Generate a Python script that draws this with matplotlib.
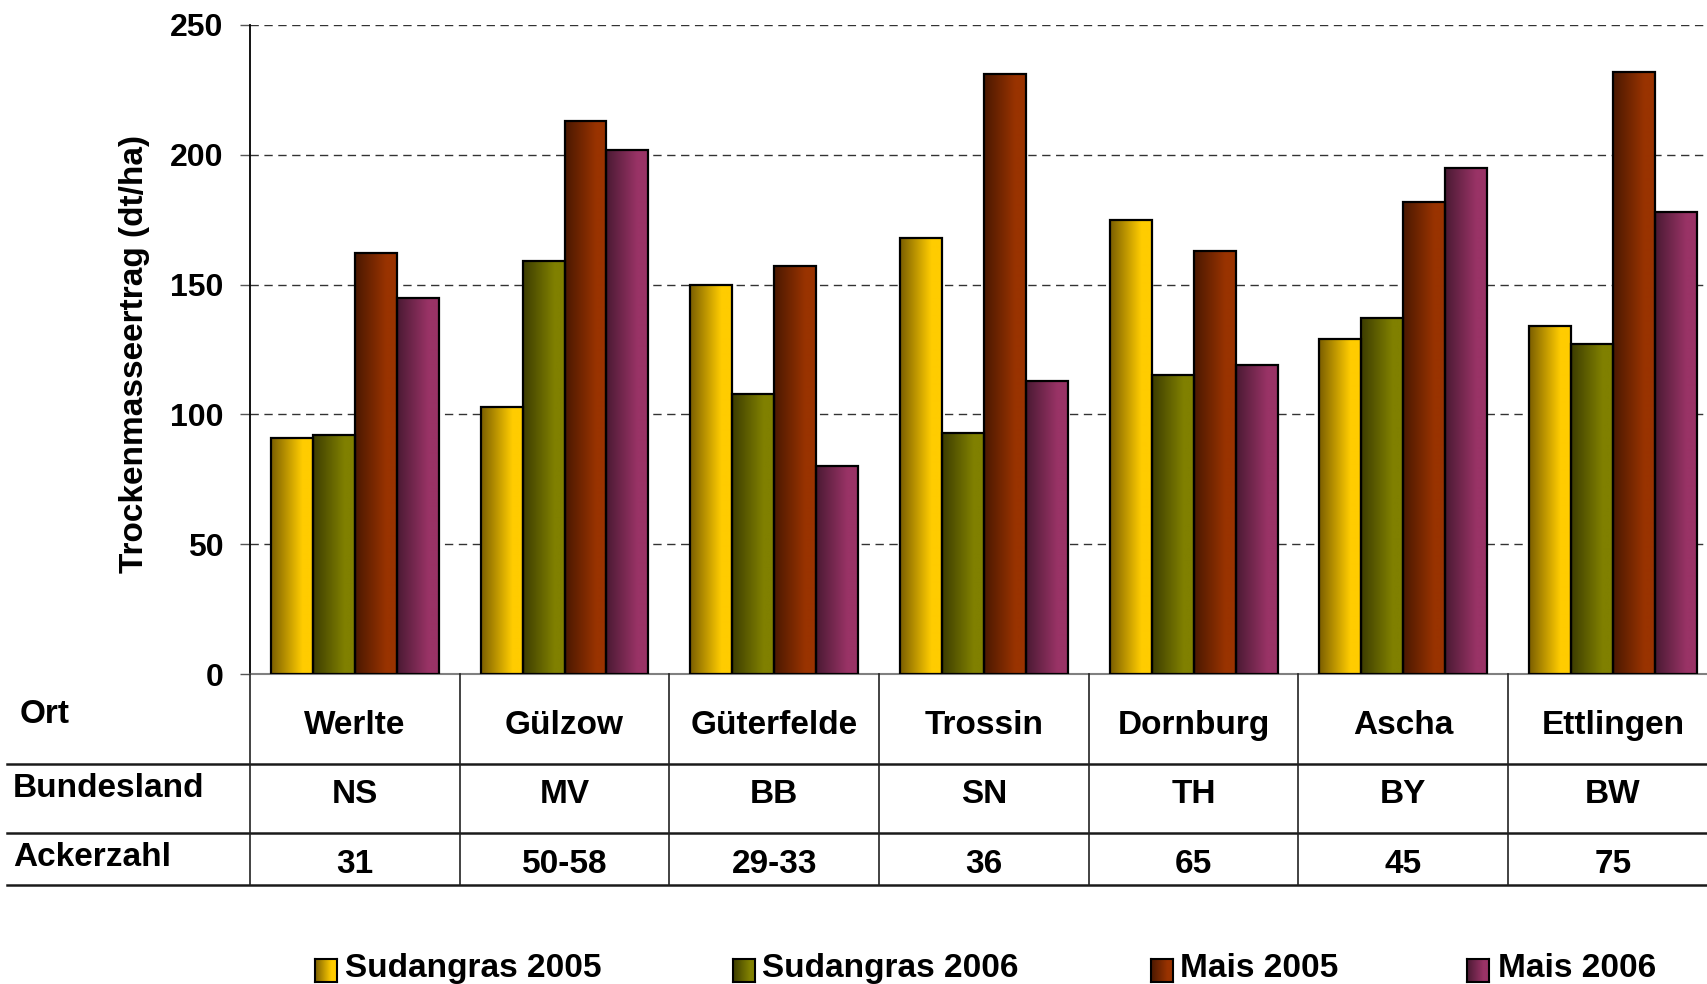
import numpy as np
import matplotlib
matplotlib.use("Agg")
import matplotlib.pyplot as plt
from matplotlib.colors import LinearSegmentedColormap
from matplotlib.transforms import blended_transform_factory

# ---- data -----------------------------------------------------------------
orte = ["Werlte", "Gülzow", "Güterfelde", "Trossin", "Dornburg", "Ascha", "Ettlingen"]
bundesland = ["NS", "MV", "BB", "SN", "TH", "BY", "BW"]
ackerzahl = ["31", "50-58", "29-33", "36", "65", "45", "75"]

series_names = ["Sudangras 2005", "Sudangras 2006", "Mais 2005", "Mais 2006"]
sudangras_2005 = [91, 103, 150, 168, 175, 129, 134]
sudangras_2006 = [92, 159, 108, 93, 115, 137, 127]
mais_2005 = [162, 213, 157, 231, 163, 182, 232]
mais_2006 = [145, 202, 80, 113, 119, 195, 178]
series_values = [sudangras_2005, sudangras_2006, mais_2005, mais_2006]

# dark (left) -> bright (right) colours of each horizontal gradient
series_colors = [("#7a5e00", "#ffcc00"),
                 ("#3c3c00", "#808000"),
                 ("#4a1800", "#993300"),
                 ("#4a1a33", "#993366")]

y_ticks = [0, 50, 100, 150, 200, 250]

# ---- figure ---------------------------------------------------------------
W, H = 1707, 984
plt.rcParams["font.family"] = ["Liberation Sans", "DejaVu Sans"]
plt.rcParams["font.weight"] = "bold"
FS = 23
FS_TABLE = 24

fig = plt.figure(figsize=(W / 100, H / 100), dpi=100)
fig.patch.set_facecolor("white")

ax_left, ax_bottom_px, ax_top_px = 250, 674, 25
group_px = 209.7
ax = fig.add_axes([ax_left / W, 1 - ax_bottom_px / H,
                   7 * group_px / W, (ax_bottom_px - ax_top_px) / H])

def gradient_cmap(c0, c1):
    return LinearSegmentedColormap.from_list("g", [(0.0, c0), (0.75, c1), (1.0, c1)])

grad = np.linspace(0, 1, 256).reshape(1, -1)

x = np.arange(len(orte))
bar_w = 0.2
offsets = [-0.3, -0.1, 0.1, 0.3]
for vals, (c0, c1), off in zip(series_values, series_colors, offsets):
    cmap = gradient_cmap(c0, c1)
    bars = ax.bar(x + off, vals, width=bar_w, facecolor="none",
                  edgecolor="black", linewidth=1.6, zorder=4)
    for rect in bars:
        x0, w, h = rect.get_x(), rect.get_width(), rect.get_height()
        im = ax.imshow(grad, cmap=cmap, aspect="auto",
                       extent=(x0, x0 + w, 0, h), zorder=3, interpolation="bilinear")
        im.set_clip_path(rect)

ax.set_xlim(-0.5, len(orte) - 0.5)
ax.set_ylim(0, 250)
ax.set_aspect("auto")

ax.set_yticks(y_ticks)
ax.set_yticklabels([str(v) for v in y_ticks], fontsize=FS, fontweight="bold")
ax.tick_params(axis="y", length=7, width=1, color="#555555", pad=12, direction="out")
ax.set_xticks([])
for yv in y_ticks[1:]:
    ax.axhline(yv, color="#333333", linewidth=1, linestyle=(0, (6, 4)), zorder=1)

for s in ["top", "right"]:
    ax.spines[s].set_visible(False)
ax.spines["left"].set_color("black")
ax.spines["left"].set_linewidth(1.3)
ax.spines["bottom"].set_color("#808080")
ax.spines["bottom"].set_linewidth(1.5)

fig.text(134 / W, 1 - 354 / H, "Trockenmasseertrag (dt/ha)", rotation=90,
         ha="center", va="center", fontsize=24, fontweight="bold")

# ---- data table under the axis ---------------------------------------------
tr = blended_transform_factory(ax.transData, fig.transFigure)

def fy(px):
    return 1 - px / H

row_lines = [764, 833, 885]
for yp in row_lines:
    fig.add_artist(plt.Line2D([7 / W, 1.0], [fy(yp), fy(yp)], color="#1a1a1a",
                              linewidth=1.8, transform=fig.transFigure))
for k in range(len(orte) + 1):
    xb = k - 0.5
    fig.add_artist(plt.Line2D([xb, xb], [fy(674), fy(885)], color="#222222",
                              linewidth=1.2, transform=tr))

fig.text(20 / W, fy(723), "Ort", fontsize=FS_TABLE, fontweight="bold", va="baseline")
fig.text(13 / W, fy(797), "Bundesland", fontsize=FS_TABLE, fontweight="bold", va="baseline")
fig.text(13 / W, fy(866), "Ackerzahl", fontsize=FS_TABLE, fontweight="bold", va="baseline")

for i in range(len(orte)):
    fig.text(i, fy(734), orte[i], transform=tr, ha="center", va="baseline",
             fontsize=FS_TABLE, fontweight="bold")
    fig.text(i, fy(803), bundesland[i], transform=tr, ha="center", va="baseline",
             fontsize=FS_TABLE, fontweight="bold")
    fig.text(i, fy(873), ackerzahl[i], transform=tr, ha="center", va="baseline",
             fontsize=FS_TABLE, fontweight="bold")

# ---- legend ----------------------------------------------------------------
swatch_x = [315, 733, 1151, 1467]
text_x = [345, 762, 1180, 1498]
for name, (c0, c1), sx, tx in zip(series_names, series_colors, swatch_x, text_x):
    sw = fig.add_axes([sx / W, fy(982), 22 / W, 23 / H])
    sw.imshow(grad, cmap=gradient_cmap(c0, c1), aspect="auto", interpolation="bilinear")
    sw.set_xticks([])
    sw.set_yticks([])
    for sp in sw.spines.values():
        sp.set_color("black")
        sp.set_linewidth(1.5)
    fig.text(tx / W, fy(977), name, fontsize=24, fontweight="bold", va="baseline")

fig.savefig("out.png", dpi=100)
